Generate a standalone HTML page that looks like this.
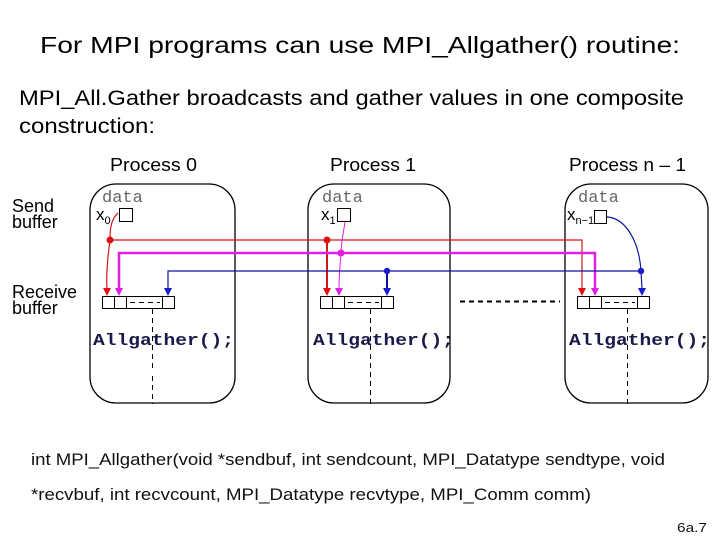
<!DOCTYPE html>
<html><head><style>body{margin:0;background:#fff}svg{display:block}</style></head><body>
<svg width="720" height="540" viewBox="0 0 720 540" xmlns="http://www.w3.org/2000/svg" font-family="Liberation Sans, sans-serif">
<defs>
<marker id="ar" markerWidth="8" markerHeight="10" refX="4" refY="9" orient="auto" markerUnits="userSpaceOnUse"><path d="M0,0 L8,0 L4,10 Z" fill="#e01010" transform="rotate(-90 4 5) translate(0 0)"/></marker>
</defs>
<text x="360" y="53" font-size="23" text-anchor="middle" textLength="640" lengthAdjust="spacingAndGlyphs">For MPI programs can use  MPI_Allgather() routine:</text>
<text x="19" y="105" font-size="21" textLength="665" lengthAdjust="spacingAndGlyphs">MPI_All.Gather broadcasts and gather values in one composite</text>
<text x="19" y="133" font-size="21" textLength="136" lengthAdjust="spacingAndGlyphs">construction:</text>

<g font-size="18">
<text x="110" y="171" textLength="87" lengthAdjust="spacingAndGlyphs">Process 0</text>
<text x="330" y="171" textLength="86" lengthAdjust="spacingAndGlyphs">Process 1</text>
<text x="569" y="171" textLength="117" lengthAdjust="spacingAndGlyphs">Process n – 1</text>
<text x="12" y="212">Send</text><text x="12" y="228">buffer</text>
<text x="12" y="298">Receive</text><text x="12" y="314">buffer</text>
</g>

<g fill="none" stroke="#000" stroke-width="1.3">
<rect x="90" y="184" width="145" height="219" rx="26"/>
<rect x="308" y="184" width="142" height="219" rx="26"/>
<rect x="565" y="184" width="143" height="219" rx="26"/>
</g>
<g font-family="Liberation Mono, monospace" font-size="17" fill="#666">
<text x="102" y="202">data</text><text x="322" y="202">data</text><text x="578" y="202">data</text>
</g>
<g font-size="17">
<text x="96" y="220">x<tspan font-size="11" dy="4">0</tspan></text>
<text x="321" y="220">x<tspan font-size="11" dy="4">1</tspan></text>
<text x="567" y="220">x<tspan font-size="11" dy="4">n−1</tspan></text>
</g>
<g fill="#fff" stroke="#000" stroke-width="1">
<rect x="119.5" y="208.5" width="13" height="13"/>
<rect x="337.5" y="208.5" width="13" height="13"/>
<rect x="594.5" y="210.5" width="12" height="13"/>
</g>

<!-- receive buffers -->
<g fill="none" stroke="#000" stroke-width="1">
<rect x="102.5" y="296.5" width="72" height="12"/><path d="M114.5 296v12M126.5 296v12M162.5 296v12"/>
<path d="M130 302.5h30" stroke-dasharray="5,4"/>
<rect x="320.5" y="296.5" width="73" height="12"/><path d="M332.5 296v12M344.5 296v12M381.5 296v12"/>
<path d="M348 302.5h31" stroke-dasharray="5,4"/>
<rect x="577.5" y="296.5" width="72" height="12"/><path d="M589.5 296v12M601.5 296v12M637.5 296v12"/>
<path d="M605 302.5h30" stroke-dasharray="5,4"/>
<path d="M152.5 309v60" stroke-dasharray="5,4"/>
<path d="M152.5 376v28" stroke-dasharray="5,4"/>
<path d="M370.5 309v95" stroke-dasharray="5,4"/>
<path d="M627.5 309v95" stroke-dasharray="5,4"/>
<path d="M460 301.5h100" stroke-dasharray="5,4" stroke-width="2"/>
</g>

<g font-family="Liberation Mono, monospace" font-weight="bold" font-size="17" fill="#1a1a4a">
<text x="93" y="345" textLength="141" lengthAdjust="spacingAndGlyphs">Allgather();</text>
<text x="313" y="345" textLength="141" lengthAdjust="spacingAndGlyphs">Allgather();</text>
<text x="569" y="345" textLength="141" lengthAdjust="spacingAndGlyphs">Allgather();</text>
</g>

<!-- red -->
<g stroke="#d01818" fill="none" stroke-width="1.2">
<path d="M118 213 C 110 220, 110 232, 110 240 C 108 255, 106 275, 107 289"/>
<path d="M110 240H582V289"/>
<path d="M327 240V289" stroke-width="2"/>
</g>
<g fill="#e01010">
<circle cx="110" cy="240" r="3.5"/><circle cx="327" cy="240" r="3.5"/>
<path d="M103 288h8l-4 8z"/><path d="M323 288h8l-4 8z"/><path d="M578 288h8l-4 8z"/>
</g>
<!-- magenta -->
<g stroke="#e020e0" fill="none">
<path d="M119 289V253H595V289" stroke-width="2.5"/>
<path d="M345 222 C 343 235, 341 245, 341 253 C 340 265, 339 278, 339 289" stroke-width="1"/>
</g>
<g fill="#e020e0">
<circle cx="341" cy="253" r="3.5"/>
<path d="M115 288h8l-4 8z"/><path d="M335 288h8l-4 8z"/><path d="M591 288h8l-4 8z"/>
</g>
<!-- blue -->
<g stroke="#1010a0" fill="none" stroke-width="1.2">
<path d="M168 289V271H641"/>
<path d="M387 271V289" stroke-width="2"/>
<path d="M607 217 C 625 218, 639 240, 641 271 L642 289"/>
</g>
<g fill="#1a1ad0">
<circle cx="387" cy="271" r="3.2"/><circle cx="641" cy="271" r="3.2"/>
<path d="M164 288h8l-4 8z"/><path d="M383 288h8l-4 8z"/><path d="M638 288h8l-4 8z"/>
</g>

<g font-size="17" fill="#111">
<text x="31" y="465" textLength="634" lengthAdjust="spacingAndGlyphs">int MPI_Allgather(void *sendbuf, int sendcount, MPI_Datatype sendtype, void</text>
<text x="31" y="500" textLength="560" lengthAdjust="spacingAndGlyphs">*recvbuf, int recvcount, MPI_Datatype recvtype, MPI_Comm comm)</text>
<text x="677" y="532" font-size="13" textLength="30" lengthAdjust="spacingAndGlyphs">6a.7</text>
</g>
</svg>
</body></html>
